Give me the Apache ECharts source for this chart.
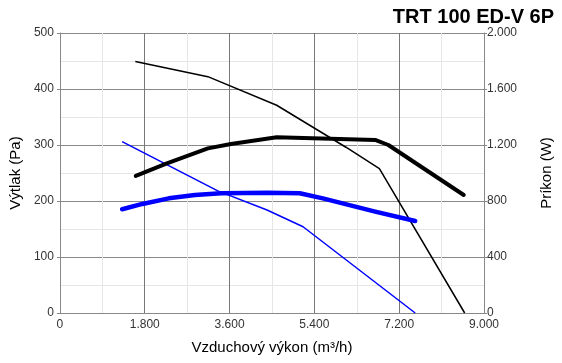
<!DOCTYPE html>
<html>
<head>
<meta charset="utf-8">
<script src="https://cdn.jsdelivr.net/npm/echarts@6/dist/echarts.min.js"></script>
<style>html,body{margin:0;padding:0;background:#fff;overflow:hidden;width:562px;height:363px;}#c{width:562px;height:363px;}</style>
</head>
<body>
<div id="c"></div>
<script>
// Air flow (m3/h) and values
var title = 'TRT 100 ED-V 6P';
var xName = 'Vzduchový výkon (m³/h)';
var yLeftName = 'Výtlak (Pa)';
var yRightName = 'Príkon (W)';

// Pressure, high speed (left axis, Pa)
var pHighX = [1600, 3140, 4600, 6070, 6780, 8590];
var pHighY = [449, 422, 371, 296, 258, 0];
// Pressure, low speed (left axis, Pa)
var pLowX = [1320, 3350, 4395, 5160, 7540];
var pLowY = [306, 218, 184, 154, 0];
// Power, high speed (right axis, W)
var wHighX = [1610, 2270, 3140, 3630, 4600, 6690, 6970, 8570];
var wHighY = [979, 1069, 1176, 1207, 1255, 1236, 1200, 843];
// Power, low speed (right axis, W)
var wLowX = [1320, 1750, 2310, 2865, 3420, 4395, 5090, 5580, 6690, 7540];
var wLowY = [741, 779, 819, 843, 855, 859, 855, 819, 724, 657];

function pairs(xs, ys) { return xs.map(function (x, i) { return [x, ys[i]]; }); }
function fmt(v) {
  var s = String(Math.round(v));
  return s.replace(/\B(?=(\d{3})+(?!\d))/g, '.');
}

var font = 'Liberation Sans, Arial, sans-serif';
var chart = echarts.init(document.getElementById('c'), null, {renderer: 'canvas', width: 562, height: 363});
chart.setOption({
  animation: false,
  backgroundColor: '#fff',
  title: {
    text: title, right: 3, top: 2,
    textStyle: {fontFamily: font, fontSize: 20, fontWeight: 'bold', color: '#000'}
  },
  grid: {left: 59, right: 71, top: 33, bottom: 50},
  xAxis: {
    type: 'value', min: 0, max: 9000, interval: 1800,
    name: xName, nameLocation: 'middle', nameGap: 27,
    nameTextStyle: {fontFamily: font, fontSize: 15, color: '#000'},
    axisLine: {lineStyle: {color: '#888'}},
    axisTick: {show: false},
    axisLabel: {fontFamily: font, fontSize: 12, color: '#333', margin: 6, formatter: fmt},
    splitLine: {lineStyle: {color: '#777', width: 1}},
    minorTick: {show: false, splitNumber: 2},
    minorSplitLine: {show: true, lineStyle: {color: '#e6e6e6'}}
  },
  yAxis: [{
    type: 'value', min: 0, max: 500, interval: 100,
    name: yLeftName, nameLocation: 'middle', nameGap: 31, nameRotate: 90,
    nameTextStyle: {fontFamily: font, fontSize: 15, color: '#000'},
    axisLine: {show: true, lineStyle: {color: '#888'}},
    axisTick: {show: true, length: 3, lineStyle: {color: '#888'}},
    axisLabel: {fontFamily: font, fontSize: 12, color: '#333', margin: 6, formatter: fmt},
    splitLine: {lineStyle: {color: '#888', width: 1}},
    minorTick: {show: false, splitNumber: 2},
    minorSplitLine: {show: true, lineStyle: {color: '#e6e6e6'}}
  }, {
    type: 'value', min: 0, max: 2000, interval: 400, position: 'right',
    name: yRightName, nameLocation: 'middle', nameGap: 55, nameRotate: 90,
    nameTextStyle: {fontFamily: font, fontSize: 15, color: '#000'},
    axisLine: {show: true, lineStyle: {color: '#888'}},
    axisTick: {show: true, length: 3, lineStyle: {color: '#888'}},
    axisLabel: {fontFamily: font, fontSize: 12, color: '#333', margin: 3, formatter: fmt},
    splitLine: {show: false}
  }],
  series: [
    {type: 'line', yAxisIndex: 0, data: pairs(pHighX, pHighY), showSymbol: false,
     lineStyle: {color: '#000', width: 1.5}, z: 3},
    {type: 'line', yAxisIndex: 0, data: pairs(pLowX, pLowY), showSymbol: false,
     lineStyle: {color: '#0000ff', width: 1.5}, z: 3},
    {type: 'line', yAxisIndex: 1, data: pairs(wHighX, wHighY), showSymbol: false,
     lineStyle: {color: '#000', width: 4, cap: 'round', join: 'round'}, z: 4},
    {type: 'line', yAxisIndex: 1, data: pairs(wLowX, wLowY), showSymbol: false,
     lineStyle: {color: '#0000ff', width: 4.5, cap: 'round', join: 'round'}, z: 4}
  ]
});
</script>
</body>
</html>
